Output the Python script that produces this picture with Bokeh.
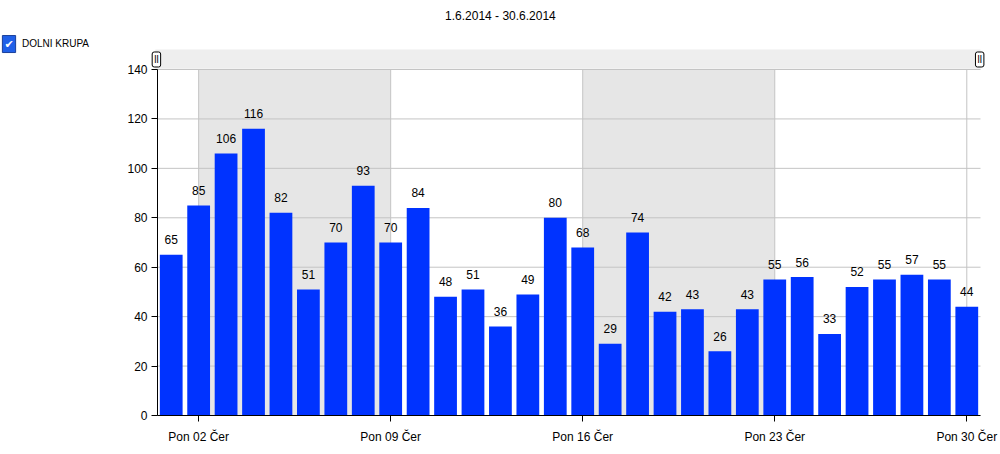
from bokeh.plotting import figure
from bokeh.models import Range1d, FixedTicker, Label
from bokeh.embed import file_html
from bokeh.resources import INLINE
from bokeh.core.properties import value

days = list(range(1, 31))
counts = [65, 85, 106, 116, 82, 51, 70, 93, 70, 84, 48, 51, 36, 49, 80,
          68, 29, 74, 42, 43, 26, 43, 55, 56, 33, 52, 55, 57, 55, 44]
tick_days = [2, 9, 16, 23, 30]
tick_labels = ["Pon 02 Čer", "Pon 09 Čer", "Pon 16 Čer", "Pon 23 Čer", "Pon 30 Čer"]
y_ticks = [0, 20, 40, 60, 80, 100, 120, 140]
band_starts = [2, 16]
band_ends = [9, 23]
title_text = "1.6.2014 - 30.6.2014"
series_name = "DOLNI KRUPA"

FONT = "Liberation Sans"
GRID = "#c4c4c4"

# frame covers the whole canvas; axes are pinned with fixed_location
p = figure(width=1000, height=454, output_backend="svg", toolbar_location=None,
           x_range=Range1d(-5.223, 31.229), y_range=Range1d(-15.78, 167.92),
           min_border=0)
p.outline_line_color = None
p.background_fill_color = "white"
p.border_fill_color = "white"
p.grid.visible = False

# weekly bands
p.quad(left=band_starts, right=band_ends, bottom=0, top=140,
       fill_color="#e6e6e6", line_color=None)

# grid lines
p.segment(x0=0.5, x1=30.5, y0=y_ticks, y1=y_ticks, line_color=GRID, line_width=1)
p.segment(x0=tick_days, x1=tick_days, y0=0, y1=140, line_color=GRID, line_width=1)

# bars
p.vbar(x=days, top=counts, width=0.83, fill_color="#0033ff", line_color=None)
p.text(x=days, y=counts, text=[str(c) for c in counts], text_align="center",
       text_baseline="alphabetic", y_offset=-15, text_font=value(FONT),
       text_font_size="12px", text_color="#000000")

# scrollbar strip
p.quad(left=[0.42], right=[30.5], bottom=[140.35], top=[148.1],
       fill_color="#eeeeee", line_color=None)

# axes
p.yaxis.ticker = FixedTicker(ticks=y_ticks)
p.yaxis.bounds = (0, 140)
p.yaxis.fixed_location = 0.5
p.xaxis.ticker = FixedTicker(ticks=tick_days)
p.xaxis.bounds = (0.5, 30.5)
p.xaxis.fixed_location = 0
p.xaxis.major_label_overrides = {d: l for d, l in zip(tick_days, tick_labels)}
for ax in (p.xaxis[0], p.yaxis[0]):
    ax.axis_line_color = "black"
    ax.major_tick_line_color = "black"
    ax.major_tick_in = 0
    ax.major_tick_out = 6
    ax.minor_tick_line_color = None
    ax.major_label_text_font = FONT
    ax.major_label_text_font_size = "12px"
    ax.major_label_text_color = "black"
p.xaxis.major_label_standoff = 8
p.yaxis.major_label_standoff = 4

# title
p.add_layout(Label(x=13.0, y=161.85, text=title_text, text_align="center",
                   text_baseline="middle", text_font=FONT, text_font_size="12px",
                   text_color="black"))
# legend
p.add_layout(Label(x=-4.913, y=150.3, text="✔", text_align="center",
                   text_baseline="middle", text_font="DejaVu Sans", text_font_size="11px",
                   text_color="white", background_fill_color="#2060e8",
                   border_line_color="#1a3f9a", padding=2))
p.add_layout(Label(x=-4.44, y=150.5, text=series_name, text_align="left",
                   text_baseline="middle", text_font=FONT, text_font_size="10px",
                   text_color="black"))
# scrollbar handles
for hx in (0.46, 30.47):
    p.add_layout(Label(x=hx, y=144.05, text="ll", text_align="center",
                       text_baseline="middle", text_font=FONT, text_font_size="10px",
                       text_color="black", background_fill_color="white",
                       border_line_color="black", padding=2, border_radius=2))

open("out.html", "w").write(file_html(p, INLINE))
